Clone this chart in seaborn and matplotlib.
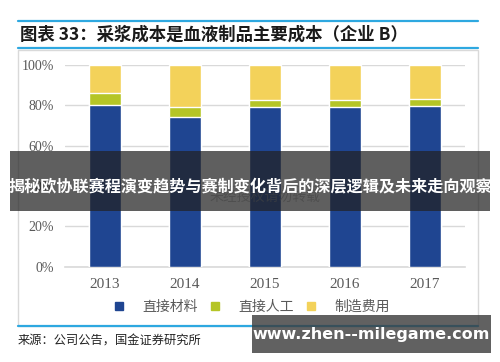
import matplotlib
matplotlib.use("Agg")
import matplotlib.pyplot as plt
import matplotlib.patches as mpatches
from matplotlib.lines import Line2D
import seaborn as sns
import pandas as pd

# data (share of cost, %)
years = ["2013", "2014", "2015", "2016", "2017"]
direct_material = [80, 74, 79, 79, 79.6]
direct_labor = [6, 5, 3.6, 3.6, 3.7]
manufacturing = [14, 21, 17.4, 17.4, 16.7]
series_names = ["直接材料", "直接人工", "制造费用"]
colors = ["#1F4591", "#B5C526", "#F3D25A"]
yticks = [0, 20, 40, 60, 80, 100]

sns.set_theme(style="white")
plt.rcParams['font.family'] = ['Noto Sans CJK SC', 'DejaVu Sans']

W, H = 500, 362
fig = plt.figure(figsize=(W / 100, H / 100), dpi=100)


def fx(x):
    return x / W


def fy(y):
    return 1 - y / H


df = pd.DataFrame({"year": years, "mat": direct_material,
                   "lab": direct_labor, "man": manufacturing})
df["c1"] = df["mat"]
df["c2"] = df["mat"] + df["lab"]
df["c3"] = df["c2"] + df["man"]

ax = fig.add_axes([fx(65), fy(266.7), fx(465) - fx(65), fy(65) - fy(266.7)])
# stacked bars: draw cumulative totals from the top layer down
for col, c in zip(["c3", "c2", "c1"], colors[::-1]):
    sns.barplot(data=df, x="year", y=col, color=c, width=0.4, ax=ax,
                saturation=1, zorder=3)

ax.set_ylim(0, 100)
ax.set_xlim(-0.5, 4.5)
ax.set_yticks(yticks)
ax.set_yticklabels([f"{t}%" for t in yticks], family="Liberation Serif",
                   fontsize=10, color="#595959")
ax.set_xticklabels(years, family="Liberation Serif", fontsize=11, color="#595959")
ax.tick_params(axis="both", length=0, pad=8)
ax.set_xlabel("")
ax.set_ylabel("")
ax.grid(axis="y", color="#D9D9D9", linewidth=1, zorder=0)
for s in ["top", "right", "left"]:
    ax.spines[s].set_visible(False)
ax.spines["bottom"].set_color("#D9D9D9")
ax.spines["bottom"].set_linewidth(1.2)

# legend
handles = [Line2D([], [], marker="s", linestyle="", color=c, markersize=5.5)
           for c in colors]
fig.legend(handles, series_names, loc="center", ncol=3, frameon=False,
           bbox_to_anchor=(fx(251), fy(307)), fontsize=10, handlelength=1.0,
           handletextpad=1.2, columnspacing=0.7, labelcolor="#595959")

# chart frame and header lines
fig.add_artist(mpatches.Rectangle((fx(18), fy(326)), fx(478) - fx(18), fy(50) - fy(326),
                                  transform=fig.transFigure, fill=False,
                                  edgecolor="#D9D9D9", linewidth=1))
for yy in [21, 48, 326]:
    fig.add_artist(Line2D([fx(18), fx(478)], [fy(yy), fy(yy)],
                          transform=fig.transFigure, color="#2EA8E0", linewidth=1.6))

fig.text(fx(20), fy(35), "图表 33：采浆成本是血液制品主要成本（企业 B）",
         fontsize=12.5, fontweight="bold", style="italic", va="center", color="#1A1A1A")
fig.text(fx(18), fy(341), "来源：公司公告，国金证券研究所", fontsize=8.8,
         va="center", color="#222222")

# faint copyright mark behind the banner
fig.text(fx(265), fy(197), "未经授权请勿转载", fontsize=10, color="#9A9A9A",
         ha="center", va="center", alpha=0.6)

# overlay banner
fig.add_artist(mpatches.Rectangle((fx(10), fy(210.5)), fx(490) - fx(10), fy(151) - fy(210.5),
                                  transform=fig.transFigure, facecolor="#222222",
                                  alpha=0.72, edgecolor="none", zorder=10))
fig.text(fx(250), fy(186), "揭秘欧协联赛程演变趋势与赛制变化背后的深层逻辑及未来走向观察",
         fontsize=11.6, fontweight="bold", color="white", ha="center", va="center",
         zorder=11)

# watermark box
fig.add_artist(mpatches.Rectangle((fx(252), fy(352.5)), fx(491) - fx(252), fy(315) - fy(352.5),
                                  transform=fig.transFigure, facecolor="#3A3A3A",
                                  alpha=0.8, edgecolor="none", zorder=10))
fig.text(fx(371), fy(334), "www.zhen--milegame.com", fontsize=11.5, fontweight="bold",
         color="white", ha="center", va="center", family="DejaVu Sans", zorder=11)

fig.savefig("out.png", dpi=100)
